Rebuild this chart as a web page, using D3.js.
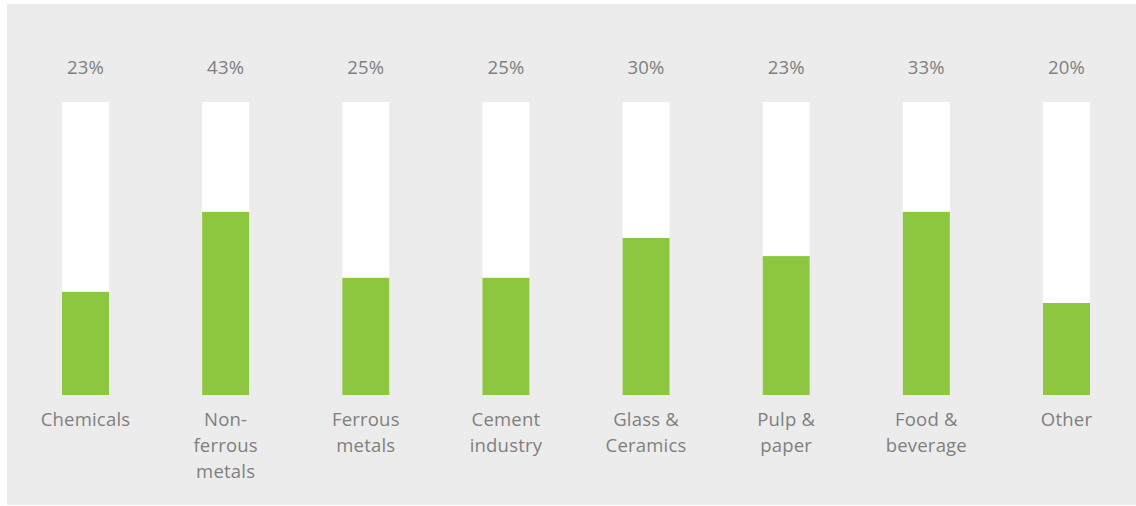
<!DOCTYPE html>
<html>
<head>
<meta charset="utf-8">
<script src="https://cdn.jsdelivr.net/npm/d3@7"></script>
<style>
  html, body { margin: 0; padding: 0; background: #ffffff; }
  svg { display: block; }
</style>
</head>
<body>
<svg id="chart" width="1136" height="506"></svg>
<script>
// Data
const categories = [
  ["Chemicals"],
  ["Non-", "ferrous", "metals"],
  ["Ferrous", "metals"],
  ["Cement", "industry"],
  ["Glass &", "Ceramics"],
  ["Pulp &", "paper"],
  ["Food &", "beverage"],
  ["Other"]
];
const percentLabels = ["23%", "43%", "25%", "25%", "30%", "23%", "33%", "20%"];
const fillValues = [0.352, 0.625, 0.40, 0.40, 0.536, 0.474, 0.625, 0.314];
const fullValues = [1, 1, 1, 1, 1, 1, 1, 1];

const svg = d3.select("#chart");
const W = 1136, H = 506;

svg.append("rect")
  .attr("x", 7).attr("y", 4)
  .attr("width", W - 7).attr("height", 501)
  .attr("fill", "#ececec");

const keys = categories.map(c => c.join(" "));
const x = d3.scalePoint().domain(keys).range([85.5, 1066.5]);
const y = d3.scaleLinear().domain([0, 1]).range([395, 102]);
const barW = 47;

const g = svg.append("g");

// background (full) bars
g.selectAll("rect.full").data(fullValues).join("rect")
  .attr("class", "full")
  .attr("x", (d, i) => x(keys[i]) - barW / 2)
  .attr("y", d => y(d))
  .attr("width", barW)
  .attr("height", d => y(0) - y(d))
  .attr("fill", "#ffffff");

// green bars
g.selectAll("rect.fill").data(fillValues).join("rect")
  .attr("class", "fill")
  .attr("x", (d, i) => x(keys[i]) - barW / 2)
  .attr("y", d => y(d))
  .attr("width", barW)
  .attr("height", d => y(0) - y(d))
  .attr("fill", "#8dc63f");

const font = "'Open Sans', sans-serif";
const textColor = "#7f7f7f";

// percent labels
g.selectAll("text.pct").data(percentLabels).join("text")
  .attr("class", "pct")
  .attr("x", (d, i) => x(keys[i]))
  .attr("y", 74)
  .attr("text-anchor", "middle")
  .attr("font-family", font)
  .attr("font-size", "18.5px")
  .attr("letter-spacing", "0.2px")
  .attr("fill", textColor)
  .text(d => d);

// category labels
const cat = g.selectAll("text.cat").data(categories).join("text")
  .attr("class", "cat")
  .attr("x", (d, i) => x(keys[i]))
  .attr("y", 425.5)
  .attr("text-anchor", "middle")
  .attr("font-family", font)
  .attr("font-size", "18.5px")
  .attr("letter-spacing", "0.2px")
  .attr("fill", textColor);
cat.each(function(lines, i) {
  d3.select(this).selectAll("tspan").data(lines).join("tspan")
    .attr("x", x(keys[i]))
    .attr("dy", (d, j) => j === 0 ? 0 : 26)
    .text(d => d);
});
</script>
</body>
</html>
